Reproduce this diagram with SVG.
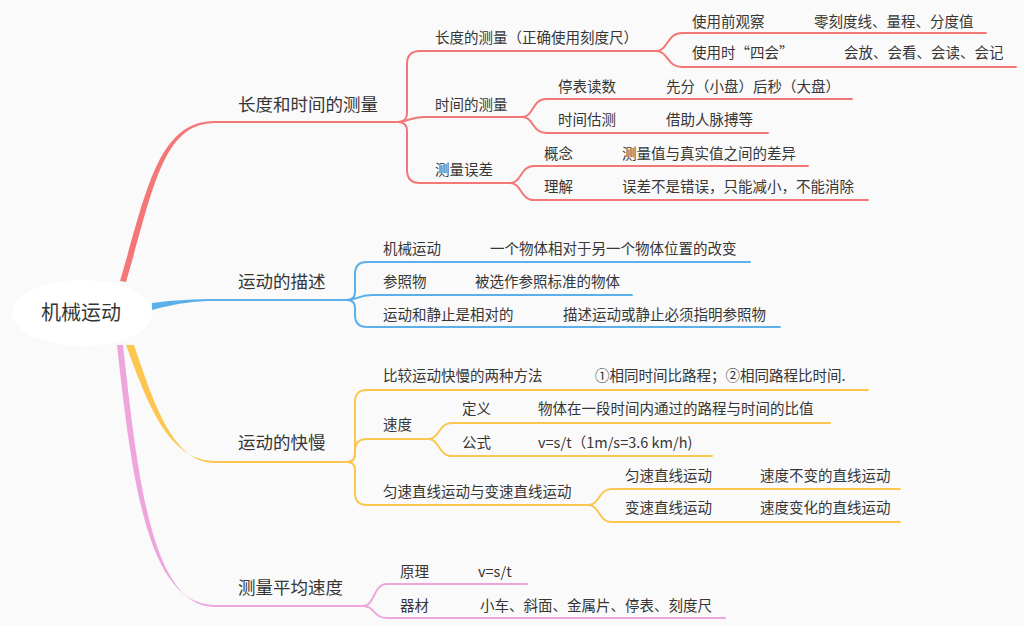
<svg xmlns="http://www.w3.org/2000/svg" width="1024" height="626" viewBox="0 0 1024 626">
<style>
.t{font-family:"Noto Sans CJK SC","Noto Sans",sans-serif;fill:#363636}
.m{font-size:17.5px}
.s{font-size:14.5px}
.c{fill:none;stroke-width:2;stroke-linecap:round;stroke-linejoin:round}
.r{stroke:#f47777}.rf{fill:#f47777}
.b{stroke:#5cb0ea}.bf{fill:#5cb0ea}
.y{stroke:#fcc651}.yf{fill:#fcc651}
.p{stroke:#eea5dc}.pf{fill:#eea5dc}
</style>
<rect width="1024" height="626" fill="#fafafa"/>
<g id="connectors">
<path class="rf" d="M120,281 C147,190 158,121 215,121 L215,123 C162,123 153,191 126,282 Z"/>
<path class="bf" d="M152,303 C175,300 195,299 215,299 L215,301 C195,301 178,303 152,310 Z"/>
<path class="yf" d="M126,345 C147,402 168,461 215,461 L215,463 C172,463 153,400 134,345 Z"/>
<path class="pf" d="M117,345 C132,482 148,605 215,605 L215,607 C152,607 138,480 123,345 Z"/>
<path class="c r" d="M213,122 L398,122"/>
<path class="c r" d="M398,122 Q407,122 407,113 L407,64 Q407,51 420,51 L656,51"/>
<path class="c r" d="M398,122 C408,122 410,117 424,117 L522,117"/>
<path class="c r" d="M398,122 Q407,122 407,131 L407,170 Q407,183 420,183 L510,183"/>
<path class="c r" d="M656,51 C668,51 667,33 682,33 L986,33"/>
<path class="c r" d="M656,51 C668,51 667,67 682,67 L1016,67"/>
<path class="c r" d="M522,117 C534,117 532,99 546,99 L852,99"/>
<path class="c r" d="M522,117 C534,117 532,133 546,133 L768,133"/>
<path class="c r" d="M510,183 C522,183 520,166 534,166 L808,166"/>
<path class="c r" d="M510,183 C522,183 520,200 534,200 L868,200"/>
<path class="c b" d="M213,300 L347,300"/>
<path class="c b" d="M347,300 Q355,300 355,292 L355,274 Q355,262 367,262 L750,262"/>
<path class="c b" d="M347,300 C357,300 358,295 372,295 L632,295"/>
<path class="c b" d="M347,300 Q355,300 355,308 L355,315 Q355,327 367,327 L780,327"/>
<path class="c y" d="M213,462 L347,462"/>
<path class="c y" d="M347,462 Q355,462 355,454 L355,402 Q355,390 367,390 L868,390"/>
<path class="c y" d="M347,462 Q355,462 355,454 L355,451 Q355,439 367,439 L428,439"/>
<path class="c y" d="M347,462 Q355,462 355,470 L355,493 Q355,505 367,505 L588,505"/>
<path class="c y" d="M428,439 C440,439 438,423 452,423 L830,423"/>
<path class="c y" d="M428,439 C440,439 438,456 452,456 L712,456"/>
<path class="c y" d="M588,505 C600,505 598,489 612,489 L900,489"/>
<path class="c y" d="M588,505 C600,505 598,522 612,522 L900,522"/>
<path class="c p" d="M213,606 L363,606"/>
<path class="c p" d="M363,606 C375,606 373,584 387,584 L527,584"/>
<path class="c p" d="M363,606 C375,606 373,618 387,618 L725,618"/>
</g>
<g id="root">
<ellipse cx="82" cy="313" rx="70" ry="33" fill="#ffffff"/>
<text class="t" x="81" y="320" font-size="20" text-anchor="middle">机械运动</text>
</g>
<g id="n-measure">
<text class="t m" x="238" y="111">长度和时间的测量</text>
</g>
<g id="n-length">
<text class="t s" x="435" y="43">长度的测量（正确使用刻度尺）</text>
<text class="t s" x="692" y="27">使用前观察</text>
<text class="t s" x="814" y="27">零刻度线、量程、分度值</text>
<text class="t s" x="692" y="58">使用时“四会”</text>
<text class="t s" x="844" y="58">会放、会看、会读、会记</text>
</g>
<g id="n-time">
<text class="t s" x="435" y="110">时间的测量</text>
<text class="t s" x="558" y="92">停表读数</text>
<text class="t s" x="666" y="92">先分（小盘）后秒（大盘）</text>
<text class="t s" x="558" y="125">时间估测</text>
<text class="t s" x="666" y="125">借助人脉搏等</text>
</g>
<g id="n-error">
<text class="t s" x="435" y="175">测量误差</text>
<text class="t s" x="544" y="159">概念</text>
<text class="t s" x="622" y="159">测量值与真实值之间的差异</text>
<text class="t s" x="544" y="192">理解</text>
<text class="t s" x="622" y="192">误差不是错误，只能减小，不能消除</text>
</g>
<g id="n-describe">
<text class="t m" x="238" y="288">运动的描述</text>
<text class="t s" x="383" y="254">机械运动</text>
<text class="t s" x="490" y="254">一个物体相对于另一个物体位置的改变</text>
<text class="t s" x="383" y="287">参照物</text>
<text class="t s" x="475" y="287">被选作参照标准的物体</text>
<text class="t s" x="383" y="320">运动和静止是相对的</text>
<text class="t s" x="563" y="320">描述运动或静止必须指明参照物</text>
</g>
<g id="n-speed">
<text class="t m" x="238" y="449">运动的快慢</text>
<text class="t s" x="383" y="381">比较运动快慢的两种方法</text>
<text class="t s" x="595" y="381">①相同时间比路程；②相同路程比时间.</text>
<text class="t s" x="383" y="430">速度</text>
<text class="t s" x="462" y="414">定义</text>
<text class="t s" x="538" y="414">物体在一段时间内通过的路程与时间的比值</text>
<text class="t s" x="462" y="448">公式</text>
<text class="t s" x="538" y="448">v=s/t（1m/s=3.6 km/h)</text>
<text class="t s" x="383" y="497">匀速直线运动与变速直线运动</text>
<text class="t s" x="625" y="481">匀速直线运动</text>
<text class="t s" x="760" y="481">速度不变的直线运动</text>
<text class="t s" x="625" y="513">变速直线运动</text>
<text class="t s" x="760" y="513">速度变化的直线运动</text>
</g>
<g id="n-average">
<text class="t m" x="238" y="594">测量平均速度</text>
<text class="t s" x="400" y="577">原理</text>
<text class="t s" x="478" y="577">v=s/t</text>
<text class="t s" x="400" y="611">器材</text>
<text class="t s" x="480" y="611">小车、斜面、金属片、停表、刻度尺</text>
</g>
</svg>
